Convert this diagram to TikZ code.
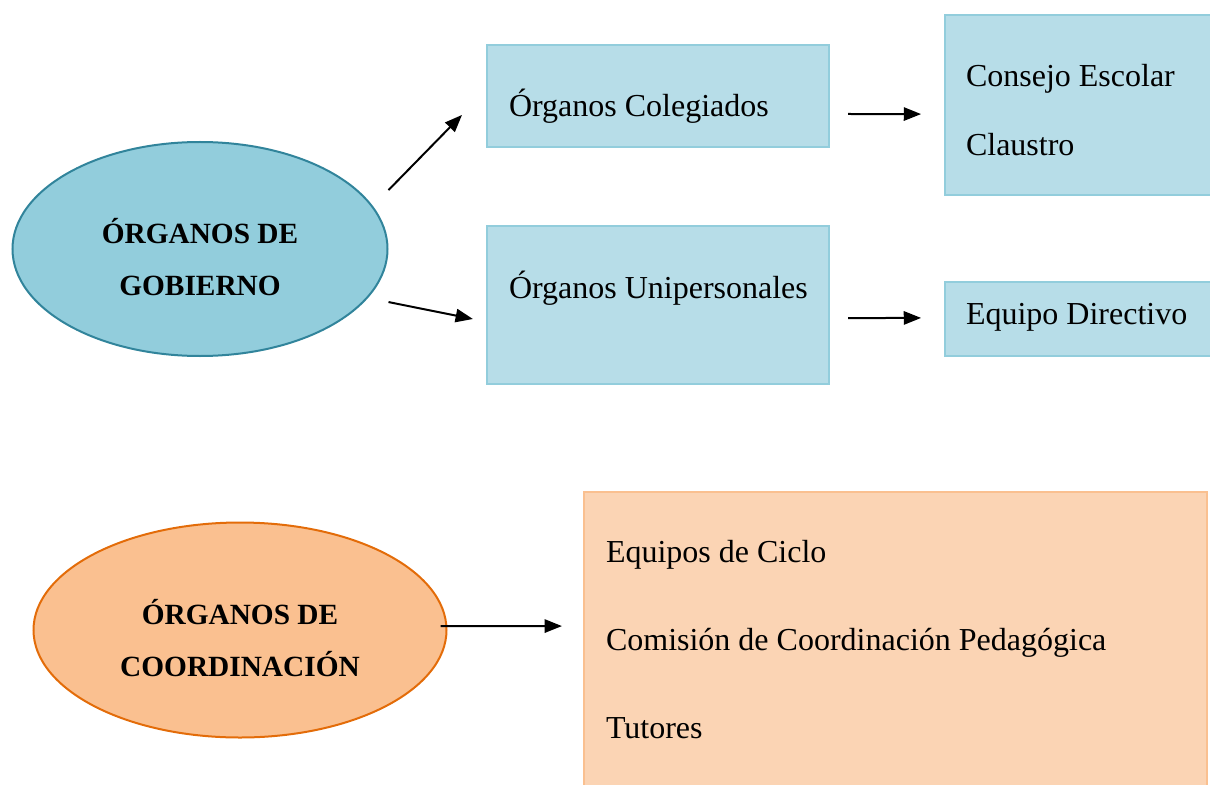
\documentclass[tikz,border=0pt]{standalone}
\usepackage{fontspec}
\setmainfont{Liberation Serif}
\usetikzlibrary{shapes.geometric,arrows.meta,positioning}

\definecolor{ovalblue}{HTML}{92CDDC}
\definecolor{ovalblueline}{HTML}{31849B}
\definecolor{boxblue}{HTML}{B7DDE8}
\definecolor{boxblueline}{HTML}{92CDDC}
\definecolor{ovalorange}{HTML}{FAC090}
\definecolor{ovalorangeline}{HTML}{E36C09}
\definecolor{boxorange}{HTML}{FBD4B4}
\definecolor{boxorangeline}{HTML}{FAC090}

\begin{document}
\begin{tikzpicture}[
  x=0.375pt, y=-0.375pt,
  line width=0.75pt,
  every node/.append style={
    inner sep=0pt,
    font=\fontsize{12}{14}\selectfont
  },
  oval/.style={ellipse, draw},
  blue oval/.style={oval, fill=ovalblue, draw=ovalblueline},
  orange oval/.style={oval, fill=ovalorange, draw=ovalorangeline},
  oval text/.style={align=center, font=\fontsize{11}{19.3}\selectfont\bfseries},
  blue box/.style={draw=boxblueline, fill=boxblue},
  orange box/.style={draw=boxorangeline, fill=boxorange},
  box text/.style={anchor=base west, align=left},
  arr/.style={-{Triangle[length=6.5pt,width=5pt]}}
]
\useasboundingbox (0,0) rectangle (1210,784);

% organos de gobierno
\node[blue oval, minimum width=375*0.375pt, minimum height=214*0.375pt] (gobierno) at (200,249) {};
\node[oval text, anchor=base] (gobiernotxt) at (200,295) {ÓRGANOS DE\\GOBIERNO};

\node[blue box, minimum width=342*0.375pt, minimum height=102*0.375pt] (colegiados) at (658,96) {};
\node[box text] (colegiadostxt) at (508,117) {Órganos Colegiados};
\node[blue box, minimum width=342*0.375pt, minimum height=158*0.375pt] (unipersonales) at (658,305) {};
\node[box text] (unipersonalestxt) at (508,298) {Órganos Unipersonales};

\node[blue box, minimum width=269*0.375pt, minimum height=180*0.375pt] (consejo) at (1079.5,105) {};
\node[box text, font=\fontsize{12}{25.9}\selectfont] (consejotxt) at (965,156) {Consejo Escolar\\Claustro};
\node[blue box, minimum width=269*0.375pt, minimum height=74*0.375pt] (equipo) at (1079.5,319) {};
\node[box text] (equipotxt) at (965,324) {Equipo Directivo};

\draw[arr] ([yshift=22.1pt]gobierno.east) -- ([xshift=-9pt,yshift=-7.1pt]colegiados.west);
\draw[arr] ([yshift=-19.9pt]gobierno.east) -- ([xshift=-4.9pt,yshift=-5.25pt]unipersonales.west);
\draw[arr] ([xshift=6.75pt,yshift=-6.75pt]colegiados.east) -- ([xshift=-8.6pt,yshift=-3.4pt]consejo.west);
\draw[arr] ([xshift=6.75pt,yshift=-4.9pt]unipersonales.east) -- ([xshift=-8.6pt,yshift=0.4pt]equipo.west);

% organos de coordinacion
\node[orange oval, minimum width=413*0.375pt, minimum height=215*0.375pt] (coordinacion) at (240,630) {};
\node[oval text, anchor=base] (coordinaciontxt) at (240,676) {ÓRGANOS DE\\COORDINACIÓN};

\node[orange box, minimum width=623*0.375pt, minimum height=298*0.375pt] (coordbox) at (895.5,641) {};
\node[box text, font=\fontsize{12}{33}\selectfont] (coordboxtxt) at (605,738) {Equipos de Ciclo\\Comisión de Coordinación Pedagógica\\Tutores};

\draw[arr] ([xshift=-2.6pt,yshift=1.5pt]coordinacion.east) -- ([xshift=-7.9pt,yshift=5.6pt]coordbox.west);
\end{tikzpicture}
\end{document}
